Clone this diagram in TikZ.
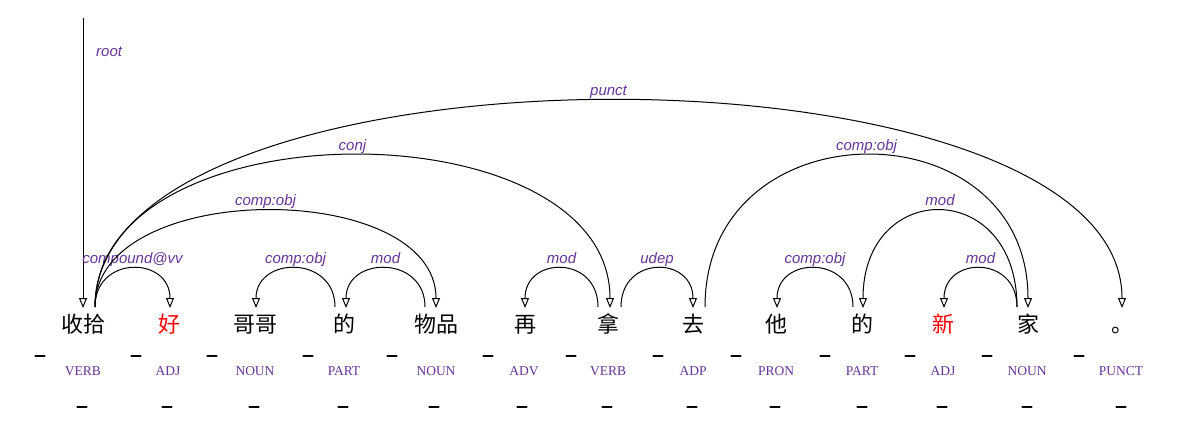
\documentclass[tikz,border=0pt]{standalone}
\usepackage{fontspec}
\usetikzlibrary{arrows.meta}
\newfontfamily\cjkf{Noto Sans CJK SC}
\newfontfamily\labf{Liberation Sans}
\newfontfamily\posf{Liberation Serif}
\newfontfamily\dashf{DejaVu Sans}
\definecolor{lblpurple}{RGB}{102,51,153}
\begin{document}
\begin{tikzpicture}[x=1pt,y=-1pt,
 word/.style={anchor=base,inner sep=0pt,font=\cjkf\fontsize{22}{24}\selectfont},
 hl/.style={text=red},
 tag/.style={anchor=base,inner sep=0pt,text=lblpurple,font=\posf\fontsize{13.5}{15}\selectfont},
 dep/.style={anchor=base,inner sep=0pt,text=lblpurple,font=\labf\itshape\fontsize{15}{17}\selectfont},
 us/.style={anchor=base,inner sep=0pt,font=\dashf\bfseries\fontsize{21}{23}\selectfont},
 arc/.style={draw=black,line width=1pt,-{Triangle[open,length=10pt,width=8pt,line width=1pt]}},
]
\useasboundingbox (0,0) rectangle (1190,423);
% words
\node[word] (w1) at (83,332) {收拾};
\node[word,hl] (w2) at (169,332) {好};
\node[word] (w3) at (255,332) {哥哥};
\node[word] (w4) at (344,332) {的};
\node[word] (w5) at (436,332) {物品};
\node[word] (w6) at (525,332) {再};
\node[word] (w7) at (608,332) {拿};
\node[word] (w8) at (693,332) {去};
\node[word] (w9) at (776,332) {他};
\node[word] (w10) at (862,332) {的};
\node[word,hl] (w11) at (943,332) {新};
\node[word] (w12) at (1028,332) {家};
\node[word] (w13) at (1122,332) {。};
% tags
\node[tag] (p1) at (83,375.5) {VERB};
\node[tag] (p2) at (168,375.5) {ADJ};
\node[tag] (p3) at (255,375.5) {NOUN};
\node[tag] (p4) at (344,375.5) {PART};
\node[tag] (p5) at (436,375.5) {NOUN};
\node[tag] (p6) at (524,375.5) {ADV};
\node[tag] (p7) at (608,375.5) {VERB};
\node[tag] (p8) at (693,375.5) {ADP};
\node[tag] (p9) at (776,375.5) {PRON};
\node[tag] (p10) at (862,375.5) {PART};
\node[tag] (p11) at (943,375.5) {ADJ};
\node[tag] (p12) at (1027,375.5) {NOUN};
\node[tag] (p13) at (1121,375.5) {PUNCT};
% underscores
\foreach \x [count=\i] in {40,136,212,308,392,488,571,658,736,825,910,987,1079}
  \node[us] (ua\i) at (\x,352.5) {\_};
\foreach \x [count=\i] in {82,167,254,343,434,522,607,692,775,862,942,1027,1121}
  \node[us] (ub\i) at (\x,403.5) {\_};
% arc end points
\coordinate (rt) at (83,18);
\coordinate (r1) at (83,308);
\coordinate (o1) at (95,307);
\coordinate (t2) at (170,308);
\coordinate (t3) at (256,308);
\coordinate (s4) at (335,307);
\coordinate (t4) at (346,308);
\coordinate (s5) at (425,307);
\coordinate (t5) at (436,308);
\coordinate (t6) at (525,308);
\coordinate (s7a) at (598,307);
\coordinate (t7) at (610,308);
\coordinate (s7b) at (621,307);
\coordinate (t8) at (693,308);
\coordinate (s8) at (705,307);
\coordinate (t9) at (777,308);
\coordinate (s10) at (853,307);
\coordinate (t10) at (863,308);
\coordinate (t11) at (944,308);
\coordinate (s12) at (1017,307);
\coordinate (t12) at (1028,308);
\coordinate (t13) at (1122,308);
% root
\draw[arc] (rt) -- (r1);
\node[dep,anchor=base west] (lroot) at (96,56) {root};
% arcs
\draw[arc] (o1) .. controls +(0,-52) and +(0,-52) .. (t2) node[dep,pos=0.5,yshift=5pt] (l1) {compound@vv};
\draw[arc] (s4) .. controls +(0,-52) and +(0,-52) .. (t3) node[dep,pos=0.5,yshift=5pt] (l2) {comp:obj};
\draw[arc] (s5) .. controls +(0,-52) and +(0,-52) .. (t4) node[dep,pos=0.5,yshift=5pt] (l3) {mod};
\draw[arc] (o1) .. controls +(0,-129) and +(0,-129) .. (t5) node[dep,pos=0.5,yshift=5pt] (l4) {comp:obj};
\draw[arc] (o1) .. controls +(0,-203) and +(0,-203) .. (t7) node[dep,pos=0.5,yshift=5pt] (l5) {conj};
\draw[arc] (o1) .. controls +(0,-276) and +(0,-276) .. (t13) node[dep,pos=0.5,yshift=5pt] (l6) {punct};
\draw[arc] (s7a) .. controls +(0,-52) and +(0,-52) .. (t6) node[dep,pos=0.5,yshift=5pt] (l7) {mod};
\draw[arc] (s7b) .. controls +(0,-52) and +(0,-52) .. (t8) node[dep,pos=0.5,yshift=5pt] (l8) {udep};
\draw[arc] (s8) .. controls +(0,-203) and +(0,-203) .. (t12) node[dep,pos=0.5,yshift=5pt] (l9) {comp:obj};
\draw[arc] (s10) .. controls +(0,-52) and +(0,-52) .. (t9) node[dep,pos=0.5,yshift=5pt] (l10) {comp:obj};
\draw[arc] (s12) .. controls +(0,-129) and +(0,-129) .. (t10) node[dep,pos=0.5,yshift=5pt] (l11) {mod};
\draw[arc] (s12) .. controls +(0,-52) and +(0,-52) .. (t11) node[dep,pos=0.5,yshift=5pt] (l12) {mod};
\end{tikzpicture}
\end{document}
